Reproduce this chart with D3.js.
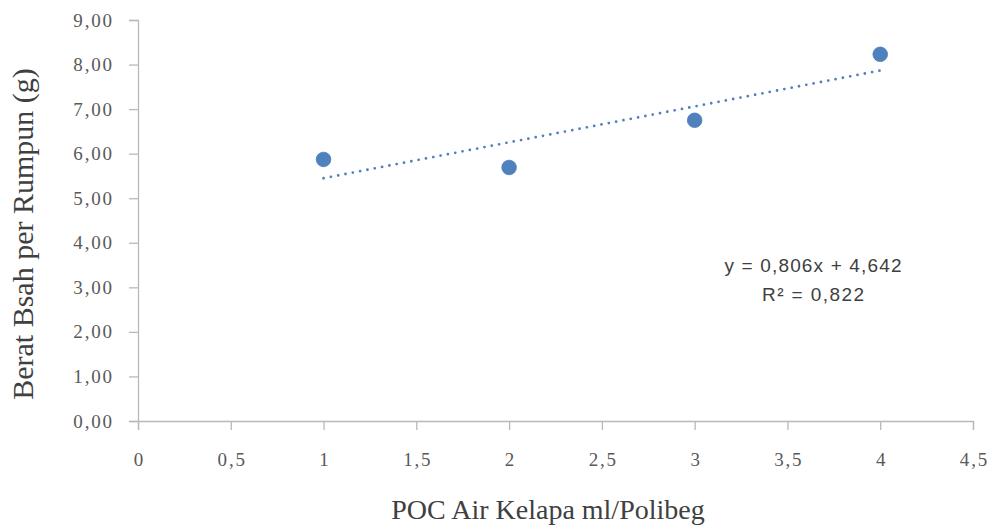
<!DOCTYPE html>
<html>
<head>
<meta charset="utf-8">
<script src="https://cdn.jsdelivr.net/npm/d3@7"></script>
<style>
  html, body { margin: 0; padding: 0; background: #fff; }
  svg { display: block; }
</style>
</head>
<body>
<div id="chart"></div>
<script>
// Dose of coconut-water liquid fertiliser (ml/polybag) and mean bulb weight per clump (g)
const dose = [1, 2, 3, 4];
const weight = [5.87, 5.69, 6.75, 8.23];

// Linear trendline as reported on the chart
const slope = 0.806;
const intercept = 4.642;
const rSquared = 0.822;

const xTicks = [0, 0.5, 1, 1.5, 2, 2.5, 3, 3.5, 4, 4.5];
const yTicks = [0, 1, 2, 3, 4, 5, 6, 7, 8, 9];

const xTitle = "POC Air Kelapa ml/Polibeg";
const yTitle = "Berat Bsah per Rumpun (g)";

const W = 991, H = 527;
const m = { left: 138, right: 18, top: 20, bottom: 106 };

const svg = d3.select("#chart").append("svg")
  .attr("width", W).attr("height", H);

const x = d3.scaleLinear().domain([0, 4.5]).range([m.left, W - m.right]);
const y = d3.scaleLinear().domain([0, 9]).range([H - m.bottom, m.top]);

const fmt = (v, d) => v.toFixed(d).replace(".", ",");
const axisColor = "#b9b9b9";
const tickFont = "'Liberation Serif', 'Times New Roman', serif";
const tickSpacing = 1.8;

// Y axis
const gy = svg.append("g")
  .attr("transform", `translate(${m.left},0)`)
  .call(d3.axisLeft(y).tickValues(yTicks).tickSize(9).tickPadding(17)
    .tickFormat(d => fmt(d, 2)));
gy.select(".domain").attr("stroke", axisColor).attr("stroke-width", 1.3);
gy.selectAll(".tick line").attr("stroke", axisColor).attr("stroke-width", 1.3);
gy.selectAll(".tick text")
  .attr("fill", "#595959")
  .attr("dx", tickSpacing)
  .style("font-family", tickFont)
  .style("font-size", "19px")
  .style("letter-spacing", tickSpacing + "px");

// X axis
const gx = svg.append("g")
  .attr("transform", `translate(0,${H - m.bottom})`)
  .call(d3.axisBottom(x).tickValues(xTicks).tickSize(9).tickPadding(23)
    .tickFormat(d => fmt(d, d % 1 === 0 ? 0 : 1)));
gx.select(".domain").attr("stroke", axisColor).attr("stroke-width", 1.3);
gx.selectAll(".tick line").attr("stroke", axisColor).attr("stroke-width", 1.3);
gx.selectAll(".tick text")
  .attr("fill", "#595959")
  .attr("dx", tickSpacing / 2)
  .style("font-family", tickFont)
  .style("font-size", "19px")
  .style("letter-spacing", tickSpacing + "px");

// Trendline over the observed dose range
const x0 = d3.min(dose), x1 = d3.max(dose);
svg.append("line")
  .attr("x1", x(x0)).attr("y1", y(slope * x0 + intercept))
  .attr("x2", x(x1)).attr("y2", y(slope * x1 + intercept))
  .attr("stroke", "#4f81bd")
  .attr("stroke-width", 2.8)
  .attr("stroke-linecap", "round")
  .attr("stroke-dasharray", "0,7.45");

// Observations
svg.append("g").selectAll("circle")
  .data(dose.map((d, i) => ({ d, w: weight[i] })))
  .join("circle")
  .attr("cx", p => x(p.d))
  .attr("cy", p => y(p.w))
  .attr("r", 7.3)
  .attr("fill", "#4f81bd")
  .attr("stroke", "#4a7ebb")
  .attr("stroke-width", 0.8);

// Equation label
const eq = svg.append("text")
  .attr("text-anchor", "middle")
  .attr("fill", "#404040")
  .style("font-family", "'Liberation Sans', Arial, sans-serif")
  .style("font-size", "19px");
eq.append("tspan").attr("x", 813).attr("y", 272)
  .attr("textLength", 177).attr("lengthAdjust", "spacing")
  .text(`y = ${fmt(slope, 3)}x + ${fmt(intercept, 3)}`);
eq.append("tspan").attr("x", 813).attr("y", 301)
  .attr("textLength", 102).attr("lengthAdjust", "spacing")
  .text(`R² = ${fmt(rSquared, 3)}`);

// Axis titles
svg.append("text")
  .attr("x", 548).attr("y", 519)
  .attr("text-anchor", "middle")
  .attr("fill", "#404040")
  .style("font-family", "'Liberation Serif', 'Times New Roman', serif")
  .style("font-size", "28px")
  .text(xTitle);

svg.append("text")
  .attr("transform", `translate(33,234) rotate(-90)`)
  .attr("text-anchor", "middle")
  .attr("fill", "#404040")
  .style("font-family", "'Liberation Serif', 'Times New Roman', serif")
  .style("font-size", "30px")
  .text(yTitle);
</script>
</body>
</html>
